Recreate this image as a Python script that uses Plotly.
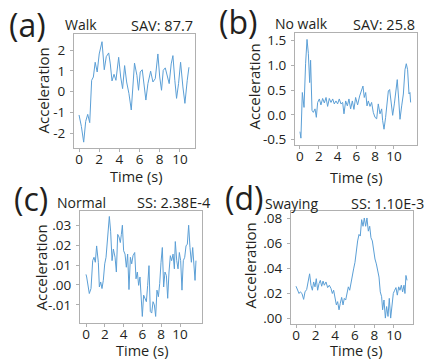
import plotly.graph_objects as go

# ---------------- data ----------------
t_walk = [0, .23, .46, .66, .86, 1.06, 1.25, 1.42, 1.6, 1.8, 2.0, 2.28, 2.5, 2.7, 2.94, 3.1, 3.27, 3.47, 3.66,
          3.93, 4.13, 4.32, 4.52, 4.72, 4.95, 5.18, 5.5, 5.74, 5.9, 6.07, 6.27, 6.44, 6.63, 6.83, 7.1, 7.33,
          7.56, 7.82, 8.0, 8.18, 8.35, 8.55, 8.71, 8.94, 9.14, 9.31, 9.5, 9.67, 9.87, 10.07, 10.3, 10.5, 10.73, 10.9]
a_walk = [-1.13, -1.68, -2.44, -1.44, -1.1, -1.5, 0.54, 0.7, 1.41, 0.94, 1.81, 2.4, 1.05, 1.68, 1.86, 1.33, 0.51,
          0.83, 0.54, 1.65, 0.7, 0.14, 1.25, 0.46, -0.1, -0.89, 1.37, 0.78, 0.06, 0.94, 1.05, 0.3, -0.41, 0.38,
          0.98, 0.46, 0.62, 1.81, 0.7, 0.06, 1.02, 1.14, 0.86, 0.38, 1.33, 1.73, 0.54, -0.33, 0.38, 1.41, 0.22,
          -0.57, 0.54, 1.17]

t_nowalk = [0, .1, .25, .43, .6, .75, .89, 1.03, 1.13, 1.28, 1.42, 1.6, 1.74, 1.88, 2.06, 2.23, 2.41, 2.59, 2.77,
            2.94, 3.12, 3.3, 3.48, 3.65, 3.83, 4.0, 4.18, 4.36, 4.54, 4.68, 4.86, 5.04, 5.21, 5.39, 5.57, 5.74,
            5.92, 6.13, 6.35, 6.56, 6.7, 6.84, 6.99, 7.13, 7.27, 7.45, 7.62, 7.8, 7.98, 8.16, 8.33, 8.51, 8.69,
            8.79, 8.94, 9.11, 9.26, 9.4, 9.54, 9.68, 9.86, 10.04, 10.21, 10.35, 10.5, 10.64, 10.82, 11.0, 11.17,
            11.31, 11.45, 11.6, 11.7, 11.77]
a_nowalk = [-0.34, -0.47, 0.45, 0.15, 1.04, 1.52, 1.24, 0.65, 1.1, 0.09, 0.05, 0.12, -0.05, 0.25, 0.32, 0.2, 0.33,
            0.24, 0.35, 0.17, 0.33, 0.25, 0.32, 0.22, 0.28, 0.22, 0.32, 0.22, 0.25, 0.02, 0.28, 0.18, 0.32, 0.12,
            0.28, 0.11, 0.35, 0.2, 0.38, 0.48, 0.58, 0.35, 0.45, 0.18, 0.28, 0.17, 0.25, 0.05, -0.05, -0.08, 0.22,
            0.02, 0.12, -0.11, -0.29, -0.05, 0.25, 0.48, 0.51, 0.32, -0.01, 0.22, 0.55, 0.71, 0.32, -0.09, 0.18,
            0.42, 0.91, 1.03, 0.91, 0.42, 0.45, 0.25]

t_normal = [0, .07, .35, .53, .71, .85, .99, 1.13, 1.31, 1.42, 1.56, 1.7, 1.84, 1.99, 2.13, 2.3, 2.48, 2.62, 2.77,
            2.91, 3.09, 3.23, 3.37, 3.51, 3.65, 3.76, 3.87, 4.0, 4.15, 4.29, 4.43, 4.57, 4.72, 4.86, 5.0, 5.18,
            5.32, 5.46, 5.6, 5.74, 5.85, 5.99, 6.13, 6.28, 6.42, 6.56, 6.7, 6.84, 6.99, 7.13, 7.27, 7.41, 7.55,
            7.7, 7.84, 7.98, 8.12, 8.26, 8.4, 8.55, 8.69, 8.83, 8.97, 9.11, 9.26, 9.4, 9.5, 9.65, 9.79, 9.93,
            10.07, 10.21, 10.35, 10.5, 10.64, 10.78, 10.92, 11.06, 11.21, 11.35, 11.49, 11.6, 11.7]
a_normal = [.0053, .004, -.0043, -.0018, .0122, .0139, .0114, .0196, .0114, -.001, .0015, -.0018, .0023, .0106,
            .0139, .0254, .0344, .027, .0122, .018, .0139, .0065, .0254, .0241, .0213, .0254, .03, .0172, .0155,
            .0089, .0155, -.0023, .0139, .0106, .0147, .0163, .0031, .0065, -.0002, .004, -.0075, -.0158, -.0051,
            -.0067, -.0084, -.0002, .0097, -.0133, -.0141, -.0084, -.01, -.0158, -.0026, -.0059, .0007, .0114,
            .0188, -.001, .0065, .0048, -.0067, .0065, .0147, .0122, .0155, .0081, .0218, .0122, .0081, .0163,
            .0122, -.0026, .0122, .0139, .0196, .0205, .03, .0188, .0114, .0188, .0114, .0023, .0122]

t_sway = [0, .17, .31, .44, .61, .78, .92, 1.09, 1.26, 1.39, 1.53, 1.67, 1.8, 1.94, 2.07, 2.21, 2.35, 2.48, 2.62,
          2.76, 2.89, 3.06, 3.23, 3.4, 3.57, 3.71, 3.84, 3.98, 4.12, 4.25, 4.39, 4.52, 4.66, 4.8, 4.93, 5.07, 5.2,
          5.34, 5.48, 5.61, 5.75, 5.88, 6.02, 6.16, 6.29, 6.43, 6.56, 6.7, 6.84, 6.97, 7.11, 7.24, 7.38, 7.52,
          7.65, 7.79, 7.93, 8.06, 8.2, 8.33, 8.47, 8.6, 8.74, 8.84, 8.98, 9.12, 9.25, 9.39, 9.52, 9.66, 9.8, 9.93,
          10.07, 10.2, 10.34, 10.48, 10.61, 10.75, 10.88, 11.02, 11.12, 11.22, 11.33]
a_sway = [.0259, .0227, .0201, .0214, .0201, .0154, .0214, .0233, .0293, .0358, .0267, .0227, .0293, .0254, .0319,
          .0227, .028, .0306, .0259, .03, .0267, .0293, .0248, .0267, .0241, .0201, .0227, .0175, .011, .0136,
          .0071, .0123, .017, .011, .0162, .0149, .0214, .0254, .0227, .0293, .0332, .0397, .045, .0554, .062,
          .0672, .0659, .079, .0737, .0803, .0737, .0803, .0698, .0737, .0646, .062, .0541, .0476, .0437, .0397,
          .0332, .0214, .0175, .0071, .0149, .0005, .0097, .0018, .0162, .0005, .0097, .0201, .0227, .0248, .0188,
          .0254, .0227, .0267, .0214, .0267, .0201, .0345, .0306]

x_ticks = [0, 2, 4, 6, 8, 10]
y_ticks_a = [-2, -1, 0, 1, 2]
y_ticks_b = [-0.5, 0.0, 0.5, 1.0, 1.5]
y_ticks_c = [-0.01, 0.0, 0.01, 0.02, 0.03]
y_tick_text_c = ["-.01", ".00", ".01", ".02", ".03"]
y_ticks_d = [0.0, 0.02, 0.04, 0.06, 0.08]
y_tick_text_d = [".00", ".02", ".04", ".06", ".08"]

panel_letters = ["(a)", "(b)", "(c)", "(d)"]
panel_names = ["Walk", "No walk", "Normal", "Swaying"]
panel_scores = ["SAV: 87.7", "SAV: 25.8", "SS: 2.38E-4", "SS: 1.10E-3"]

# ---------------- figure ----------------
W, H = 428, 363
FONT = "Open Sans"
LINE = "#5b9fd6"
TXT = "#231f20"

def px(x):
    return x / W

def py(y):
    return 1 - y / H

fig = go.Figure()
series = [(t_walk, a_walk), (t_nowalk, a_nowalk), (t_normal, a_normal), (t_sway, a_sway)]
for i, (tx, ay) in enumerate(series):
    sfx = "" if i == 0 else str(i + 1)
    fig.add_trace(go.Scatter(x=tx, y=ay, mode="lines", line=dict(color=LINE, width=1),
                             xaxis="x" + sfx, yaxis="y" + sfx, showlegend=False, hoverinfo="skip"))

# pixel boxes: (left, right, top, bottom)
boxes = [(74, 195, 33, 148), (295, 417, 32, 145), (80, 202, 213, 326), (291, 413, 213, 327)]
xranges = [[-0.5, 11.5], [-0.53, 12.45], [-0.64, 12.34], [-0.51, 11.94]]
yranges = [[-2.7, 2.75], [-0.6, 1.64], [-0.0189, 0.0369], [-0.0039, 0.0855]]
yticks = [(y_ticks_a, [str(v) for v in y_ticks_a]),
          (y_ticks_b, ["%.1f" % v for v in y_ticks_b]),
          (y_ticks_c, y_tick_text_c),
          (y_ticks_d, y_tick_text_d)]

layout = dict(width=W, height=H, margin=dict(l=0, r=0, t=0, b=0),
              paper_bgcolor="white", plot_bgcolor="white",
              font=dict(family=FONT, color=TXT, size=13))
axcommon = dict(showgrid=False, zeroline=False, showline=True, linecolor="#b0b0b0", linewidth=1,
                mirror=True, ticks="outside", ticklen=3, tickcolor="#b0b0b0",
                tickfont=dict(family=FONT, size=13.5, color=TXT))
for i in range(4):
    l, r, t, b = boxes[i]
    sfx = "" if i == 0 else str(i + 1)
    layout["xaxis" + sfx] = dict(axcommon, domain=[px(l), px(r)], range=xranges[i],
                                 tickvals=x_ticks, anchor="y" + sfx, ticklabelstandoff=-4)
    layout["yaxis" + sfx] = dict(axcommon, domain=[py(b), py(t)], range=yranges[i],
                                 tickvals=yticks[i][0], ticktext=yticks[i][1], anchor="x" + sfx,
                                 ticklabelstandoff=2)
fig.update_layout(**layout)

anns = []
# panel letter, name, score positions (pixels)
letter_pos = [(28, 23), (238, 20), (31, 200), (244, 199)]
name_pos = [(63, 23), (273, 22), (55, 204), (263, 205)]
score_pos = [(195, 24), (417, 23), (213, 204), (426, 205)]
ylab_pos = [(43, 90), (254, 86), (41, 270), (250, 268)]
xlab_pos = [(136, 177), (356, 178), (142, 354), (356, 354)]
for i in range(4):
    x, y = letter_pos[i]
    anns.append(dict(x=px(x), y=py(y), xref="paper", yref="paper", text=panel_letters[i], showarrow=False,
                     xanchor="center", yanchor="middle", font=dict(size=32, family=FONT, color=TXT)))
    x, y = name_pos[i]
    anns.append(dict(x=px(x), y=py(y), xref="paper", yref="paper", text=panel_names[i], showarrow=False,
                     xanchor="left", yanchor="middle", font=dict(size=14, family=FONT, color=TXT)))
    x, y = score_pos[i]
    anns.append(dict(x=px(x), y=py(y), xref="paper", yref="paper", text=panel_scores[i], showarrow=False,
                     xanchor="right", yanchor="middle", font=dict(size=14.5, family=FONT, color=TXT)))
    x, y = ylab_pos[i]
    anns.append(dict(x=px(x), y=py(y), xref="paper", yref="paper", text="Acceleration", showarrow=False,
                     textangle=-90, xanchor="center", yanchor="middle", font=dict(size=15, family=FONT, color=TXT)))
    x, y = xlab_pos[i]
    anns.append(dict(x=px(x), y=py(y), xref="paper", yref="paper", text="Time (s)", showarrow=False,
                     xanchor="center", yanchor="middle", font=dict(size=14.5, family=FONT, color=TXT)))
fig.update_layout(annotations=anns)

fig.write_html("out.html", config={"displayModeBar": False},
               post_script="document.body.style.margin='0';document.body.style.overflow='hidden';")
